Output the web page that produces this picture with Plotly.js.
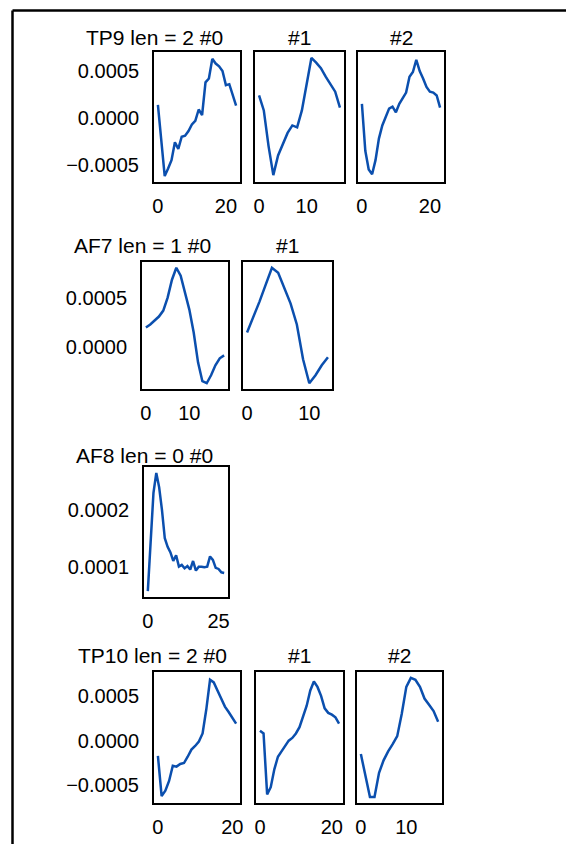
<!DOCTYPE html>
<html><head><meta charset="utf-8">
<script src="https://cdn.plot.ly/plotly-3.0.1.min.js"></script>
<style>html,body{margin:0;padding:0;background:#fff;} #chart{width:566px;height:844px;}</style>
</head><body><div id="chart"></div>
<script>
// ---------- data ----------
const tp9_0 = [0.00014,-0.00025,-0.00062,-0.00054,-0.00045,-0.00026,-0.00033,-0.00020,-0.00019,-0.00014,-0.00007,-0.00003,0.00009,0.00003,0.00038,0.00042,0.00063,0.00058,0.00055,0.00050,0.00035,0.00036,0.00025,0.00013];
const tp9_1 = [0.00024,0.00008,-0.00030,-0.00061,-0.00040,-0.00027,-0.00016,-0.00008,-0.00010,0.00008,0.00035,0.00064,0.00059,0.00053,0.00044,0.00036,0.00028,0.00011];
const tp9_2 = [0.00015,-0.00035,-0.00055,-0.00060,-0.00045,-0.00022,-0.00008,0.00002,0.00010,0.00012,0.00006,0.00015,0.00021,0.00027,0.00044,0.00049,0.00062,0.00050,0.00042,0.00033,0.00028,0.00027,0.00024,0.00011];
const af7_0 = [0.00020,0.00023,0.00027,0.00031,0.00037,0.00050,0.00068,0.00080,0.00072,0.00055,0.00038,0.00015,-0.00015,-0.00034,-0.00036,-0.00028,-0.00018,-0.00011,-0.00008];
const af7_1 = [0.00015,0.00030,0.00046,0.00063,0.00080,0.00075,0.00060,0.00044,0.00023,-0.00012,-0.00036,-0.00028,-0.00018,-0.00010];
const af8_0 = [0.000057,0.00014,0.00023,0.000265,0.00024,0.00020,0.00015,0.000135,0.000125,0.00011,0.00012,0.00010,0.000103,0.000097,0.000101,0.000095,0.00011,0.000093,0.00010,0.00010,0.000099,0.00010,0.000118,0.000112,0.000098,0.000096,0.00009,0.000089];
const tp10_0 = [-0.00017,-0.00062,-0.00056,-0.00045,-0.00028,-0.00029,-0.00026,-0.00025,-0.00018,-0.00010,-0.00006,-0.00001,0.00008,0.00035,0.00068,0.00065,0.00056,0.00046,0.00038,0.00032,0.00026,0.00019];
const tp10_1 = [0.00011,0.00008,-0.00060,-0.00052,-0.00032,-0.00018,-0.00012,-0.00006,0.00000,0.00003,0.00008,0.00015,0.00027,0.00039,0.00056,0.00066,0.00060,0.00050,0.00036,0.00031,0.00029,0.00026,0.00019];
const tp10_2 = [-0.00015,-0.00040,-0.00063,-0.00063,-0.00036,-0.00022,-0.00012,-0.00004,0.00005,0.00030,0.00060,0.00070,0.00068,0.00060,0.00047,0.00040,0.00033,0.00021];

const rowTitles = ["TP9 len = 2 #0", "AF7 len = 1 #0", "AF8 len = 0 #0", "TP10 len = 2 #0"];
const subTitles = ["#1", "#2"];
const rowSeries = [[tp9_0, tp9_1, tp9_2], [af7_0, af7_1], [af8_0], [tp10_0, tp10_1, tp10_2]];
const xTickVals = [[[0,20],[0,10],[0,20]], [[0,10],[0,10]], [[0,25]], [[0,20],[0,20],[0,10]]];
const yTickVals = [[-0.0005,0,0.0005], [0,0.0005], [0.0001,0.0002], [-0.0005,0,0.0005]];

// ---------- layout geometry (pixels) ----------
const W = 566, H = 844;
const rowY = [[52,182],[262,389],[467,597],[672,803]];
const panelX = [[[154,240],[255,344],[358,444]], [[142,228],[243,332]], [[144,228]], [[154,240],[256,343],[357,442]]];
const titleRight = [225, 213, 215, 229];
const titleY = [37, 245, 455, 655];

const FONT = "Liberation Sans, Arial, Helvetica, sans-serif";
const LINE = "#0b4fae";

const traces = [];
const layout = {
  width: W, height: H,
  margin: {l:0, r:0, t:0, b:0},
  paper_bgcolor: "#fff", plot_bgcolor: "#fff",
  showlegend: false,
  font: {family: FONT, size: 20, color: "#000"},
  annotations: [],
  shapes: [
    {type:"line", xref:"paper", yref:"paper", x0:12.5/W, x1:1.02, y0:1-10.5/H, y1:1-10.5/H, line:{color:"#000", width:2.5}},
    {type:"line", xref:"paper", yref:"paper", x0:12.5/W, x1:12.5/W, y0:1-10.5/H, y1:-0.02, line:{color:"#000", width:2.5}}
  ]
};

let k = 0;
rowSeries.forEach((series, r) => {
  let mn = Infinity, mx = -Infinity;
  series.forEach(s => s.forEach(v => { mn = Math.min(mn, v); mx = Math.max(mx, v); }));
  const pad = 0.05 * (mx - mn);
  const yr = [mn - pad, mx + pad];
  series.forEach((ys, c) => {
    k += 1;
    const xs = ys.map((_, i) => i);
    const n = ys.length - 1;
    const xn = k === 1 ? "xaxis" : "xaxis" + k;
    const yn = k === 1 ? "yaxis" : "yaxis" + k;
    const xid = k === 1 ? "x" : "x" + k;
    const yid = k === 1 ? "y" : "y" + k;
    traces.push({x: xs, y: ys, xaxis: xid, yaxis: yid, type: "scatter", mode: "lines",
      line: {color: LINE, width: 2.5}, hoverinfo: "skip"});
    const px = panelX[r][c];
    const py = rowY[r];
    layout[xn] = {
      domain: [px[0]/W, px[1]/W], anchor: yid,
      range: [-0.05*n, 1.05*n],
      tickvals: xTickVals[r][c], ticks: "outside", ticklen: 5, tickcolor: "rgba(0,0,0,0)",
      showline: true, mirror: true, linecolor: "#000", linewidth: 2,
      showgrid: false, zeroline: false, tickfont: {family: FONT, size: 20, color: "#000"}
    };
    layout[yn] = {
      domain: [1 - py[1]/H, 1 - py[0]/H], anchor: xid,
      range: yr,
      tickvals: yTickVals[r], tickformat: ".4f",
      showticklabels: c === 0,
      ticks: "outside", ticklen: 9, tickcolor: "rgba(0,0,0,0)",
      showline: true, mirror: true, linecolor: "#000", linewidth: 2,
      showgrid: false, zeroline: false, tickfont: {family: FONT, size: 20, color: "#000"}
    };
    if (c === 0) {
      layout.annotations.push({xref:"paper", yref:"paper", x: titleRight[r]/W, y: 1 - titleY[r]/H,
        xanchor:"right", yanchor:"middle", showarrow:false, text: rowTitles[r],
        font:{family: FONT, size: 21, color:"#000"}});
    } else {
      layout.annotations.push({xref:"paper", yref:"paper", x: ((px[0]+px[1])/2)/W, y: 1 - titleY[r]/H,
        xanchor:"center", yanchor:"middle", showarrow:false, text: subTitles[c-1],
        font:{family: FONT, size: 21, color:"#000"}});
    }
  });
});

Plotly.newPlot("chart", traces, layout, {staticPlot: true, displayModeBar: false});
</script></body></html>
